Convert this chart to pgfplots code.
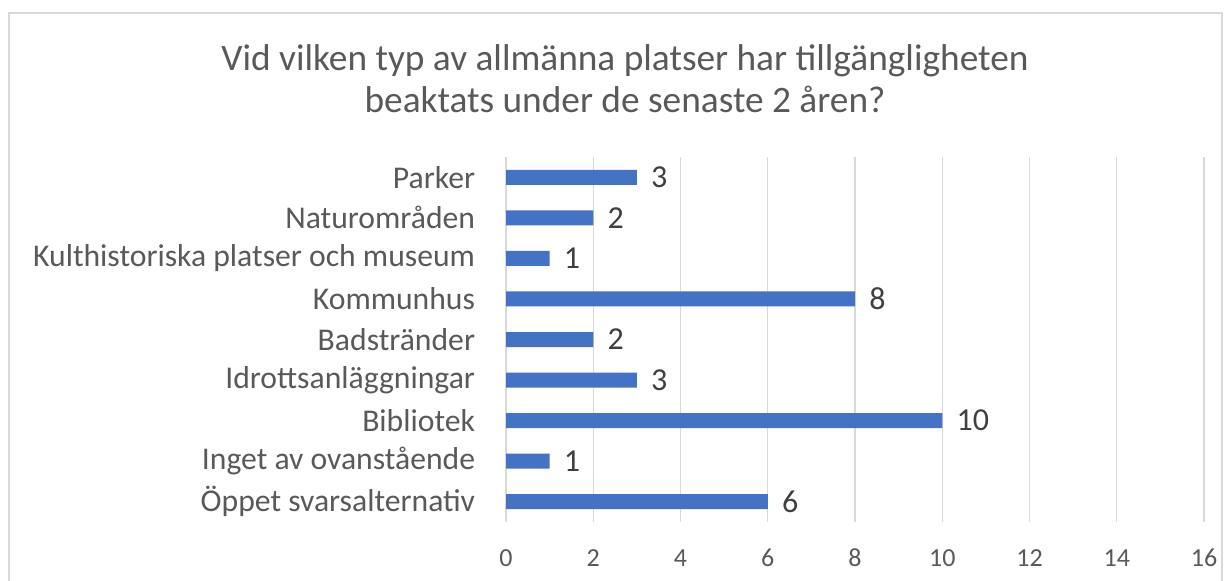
\documentclass[border=0pt]{standalone}
\usepackage{pgfplots}
\pgfplotsset{compat=1.18}
\usepackage{fontspec}
\setmainfont{Carlito}
\definecolor{barblue}{HTML}{4472C4}
\definecolor{gridgray}{HTML}{D9D9D9}
\definecolor{txtgray}{HTML}{595959}
\definecolor{lblgray}{HTML}{404040}
\begin{document}
\begin{tikzpicture}
\begin{scope}[x=0.75pt,y=0.75pt]
\path[use as bounding box] (0,0) rectangle (1230,581);
\draw[gridgray, line width=1.2pt] (9,0) -- (9,568) -- (1222,568) -- (1222,0);
\node[txtgray, font=\fontsize{28}{31.5}\selectfont, align=center] at (625,502)
  {Vid vilken typ av allmänna platser har tillgängligheten\\beaktats under de senaste 2 åren?};
\end{scope}
\begin{axis}[
  at={(379.5pt,44.25pt)}, anchor=south west,
  scale only axis, width=523.5pt, height=273.75pt,
  xbar, bar width=11.25pt,
  xmin=0, xmax=16, ymin=-0.5, ymax=8.5,
  y dir=reverse,
  xtick={0,2,...,16},
  ytick={0,...,8},
  yticklabels={Parker,Naturområden,Kulthistoriska platser och museum,Kommunhus,Badstränder,Idrottsanläggningar,Bibliotek,Inget av ovanstående,Öppet svarsalternativ},
  xmajorgrids, grid style={gridgray, line width=1pt},
  axis line style={draw=none},
  tick style={draw=none},
  /pgf/number format/assume math mode=true,
  xticklabel style={font=\fontsize{19.5}{24}\selectfont, text=txtgray, anchor=base, yshift=-33pt},
  yticklabel style={font=\fontsize{23.75}{27}\selectfont, text=txtgray, anchor=east, inner sep=0pt, xshift=-18.75pt},
  nodes near coords,
  nodes near coords style={font=\fontsize{24}{28}\selectfont, text=lblgray, anchor=west, inner sep=0pt, xshift=10.5pt},
]
\addplot[fill=barblue, draw=none] coordinates {(3,0) (2,1) (1,2) (8,3) (2,4) (3,5) (10,6) (1,7) (6,8)};
\end{axis}
\end{tikzpicture}
\end{document}
